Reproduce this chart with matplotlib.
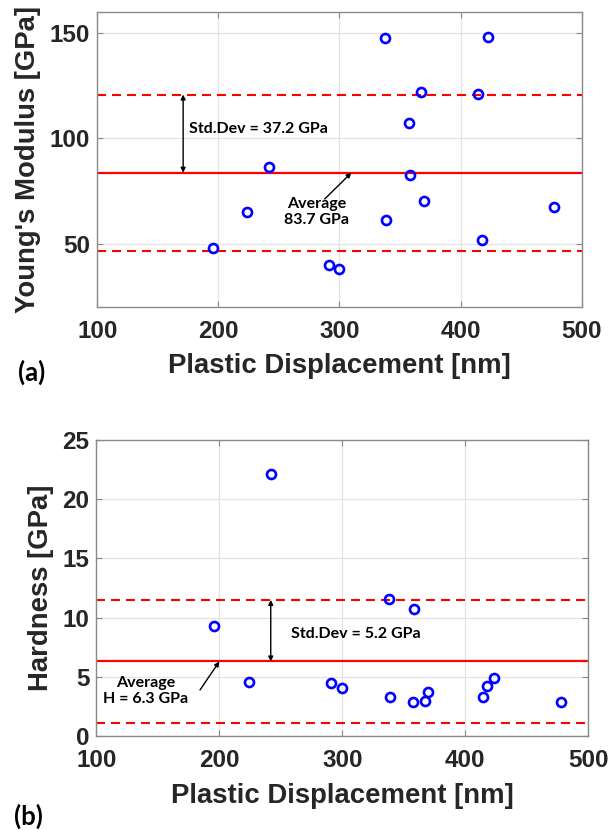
import matplotlib
matplotlib.use("Agg")
import matplotlib.pyplot as plt
import numpy as np

# values
displacement = [195.7, 224.0, 242.2, 291.0, 300.0, 337.9, 338.7, 357.2, 358.2,
                367.0, 369.5, 414.5, 417.8, 423.0, 477.4]
modulus = [48.0, 64.9, 86.5, 39.7, 38.0, 147.6, 61.1, 107.4, 82.4,
           122.0, 70.3, 121.0, 51.6, 148.4, 67.4]
hardness = [9.3, 4.6, 22.1, 4.5, 4.1, 11.6, 3.3, 2.9, 10.7,
            3.0, 3.7, 3.3, 4.2, 4.9, 2.9]
E_avg, E_std = 83.7, 37.2
H_avg, H_std = 6.3, 5.2

x_ticks = [100, 200, 300, 400, 500]
E_ticks = [50, 100, 150]
H_ticks = [0, 5, 10, 15, 20, 25]

tick_font = dict(family="Liberation Sans", weight="bold", size=17.5)
label_font = dict(family="Liberation Sans", weight="bold", size=19.8)
note_font = dict(family="Lato", weight="bold", size=11.5)

fig = plt.figure(figsize=(6.1, 8.3), dpi=100)
ax1 = fig.add_axes([0.1595, 0.6305, 0.7941, 0.3547])
ax2 = fig.add_axes([0.1579, 0.1130, 0.8066, 0.3572])


def style(ax, yticks, ylim, ylabel, ylab_x):
    ax.set_xlim(100, 500)
    ax.set_ylim(*ylim)
    ax.set_xticks(x_ticks)
    ax.set_yticks(yticks)
    ax.grid(True, color="#e3e3e3", linewidth=0.9)
    ax.set_axisbelow(True)
    ax.tick_params(direction="in", length=4, width=0.8, color="#888888",
                   top=True, right=True, labelcolor="#262626")
    ax.tick_params(axis="x", pad=9.5)
    ax.tick_params(axis="y", pad=5)
    for lab in ax.get_xticklabels() + ax.get_yticklabels():
        lab.set_fontproperties(tick_font)
    for sp in ax.spines.values():
        sp.set_color("#8a8a8a")
        sp.set_linewidth(1.0)
    ax.set_xlabel("Plastic Displacement [nm]", color="#262626", **label_font)
    ax.xaxis.set_label_coords(0.5, -0.158)
    ax.set_ylabel(ylabel, color="#262626", va="center", **label_font)
    ax.yaxis.set_label_coords(ylab_x, 0.5)


def ref_lines(ax, avg, std):
    ax.axhline(avg, color="red", linewidth=1.6, zorder=2)
    ax.axhline(avg + std, color="red", linewidth=1.5, linestyle=(0, (4.3, 2.9)), zorder=2)
    ax.axhline(avg - std, color="red", linewidth=1.5, linestyle=(0, (4.3, 2.9)), zorder=2)


# (a) Young's modulus
ref_lines(ax1, E_avg, E_std)
ax1.plot(displacement, modulus, "o", color="blue", markerfacecolor="none",
         markersize=6.5, markeredgewidth=1.9, zorder=3)
style(ax1, E_ticks, (20, 160), "Young's Modulus [GPa]", -0.143)
ax1.annotate("", xy=(170.9, E_avg + E_std), xytext=(170.9, E_avg),
             arrowprops=dict(arrowstyle="<|-|>", color="black", lw=1.0,
                             mutation_scale=7, shrinkA=0, shrinkB=0))
ax1.text(175.9, 104.6, "Std.Dev = 37.2 GPa", ha="left", va="center", **note_font)
ax1.annotate("", xy=(309.8, E_avg), xytext=(287.8, 71.2),
             arrowprops=dict(arrowstyle="-|>", color="black", lw=1.0,
                             mutation_scale=7, shrinkA=0, shrinkB=0))
ax1.text(281, 65.0, "Average\n83.7 GPa", ha="center", va="center",
         linespacing=1.2, **note_font)

# (b) Hardness
ref_lines(ax2, H_avg, H_std)
ax2.plot(displacement, hardness, "o", color="blue", markerfacecolor="none",
         markersize=6.5, markeredgewidth=1.9, zorder=3)
style(ax2, H_ticks, (0, 25), "Hardness [GPa]", -0.112)
ax2.annotate("", xy=(241.8, H_avg + H_std), xytext=(241.8, H_avg),
             arrowprops=dict(arrowstyle="<|-|>", color="black", lw=1.0,
                             mutation_scale=7, shrinkA=0, shrinkB=0))
ax2.text(258.3, 8.63, "Std.Dev = 5.2 GPa", ha="left", va="center", **note_font)
ax2.annotate("", xy=(200, H_avg), xytext=(184.3, 3.9),
             arrowprops=dict(arrowstyle="-|>", color="black", lw=1.0,
                             mutation_scale=7, shrinkA=0, shrinkB=0))
ax2.text(140.4, 3.83, "Average\nH = 6.3 GPa", ha="center", va="center",
         linespacing=1.2, **note_font)

fig.text(0.0525, 0.552, "(a)", ha="center", va="center", family="Lato",
         weight="bold", size=18.5)
fig.text(0.046, 0.0169, "(b)", ha="center", va="center", family="Lato",
         weight="bold", size=18.5)

plt.savefig("out.png", dpi=100)
plt.close()
